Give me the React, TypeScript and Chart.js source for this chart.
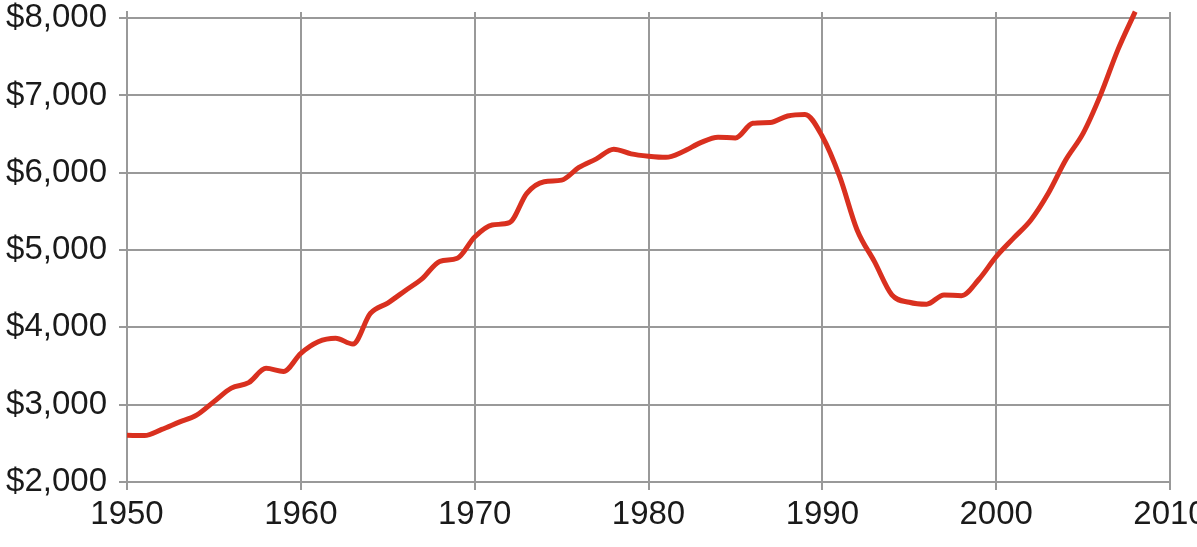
import React, { useEffect, useRef } from 'react';
import { Chart, registerables } from 'chart.js';

Chart.register(...registerables);

const years: number[] = [
  1950, 1951, 1952, 1953, 1954, 1955, 1956, 1957, 1958, 1959,
  1960, 1961, 1962, 1963, 1964, 1965, 1966, 1967, 1968, 1969,
  1970, 1971, 1972, 1973, 1974, 1975, 1976, 1977, 1978, 1979,
  1980, 1981, 1982, 1983, 1984, 1985, 1986, 1987, 1988, 1989,
  1990, 1991, 1992, 1993, 1994, 1995, 1996, 1997, 1998, 1999,
  2000, 2001, 2002, 2003, 2004, 2005, 2006, 2007, 2008,
];

const values: number[] = [
  2605, 2600, 2680, 2775, 2865, 3040, 3215, 3285, 3470, 3430,
  3665, 3815, 3860, 3785, 4180, 4315, 4475, 4635, 4855, 4895,
  5170, 5325, 5355, 5735, 5885, 5905, 6070, 6180, 6305, 6245,
  6215, 6200, 6275, 6390, 6460, 6450, 6640, 6650, 6735, 6755,
  6470, 5950, 5260, 4850, 4420, 4325, 4300, 4420, 4410, 4620,
  4915, 5155, 5390, 5735, 6165, 6510, 7005, 7590, 8085,
];

const yTicks: number[] = [2000, 3000, 4000, 5000, 6000, 7000, 8000];
const xTicks: number[] = [1950, 1960, 1970, 1980, 1990, 2000, 2010];

const LineChart: React.FC = () => {
  const chartRef = useRef<HTMLCanvasElement>(null);

  useEffect(() => {
    if (!chartRef.current) return;
    const font = { family: '"Liberation Sans", Arial, sans-serif', size: 33 };
    const chart = new Chart(chartRef.current, {
      type: 'line',
      data: {
        datasets: [
          {
            data: years.map((y, i) => ({ x: y, y: values[i] })),
            borderColor: '#d9301f',
            borderWidth: 5,
            pointRadius: 0,
            tension: 0.4,
            cubicInterpolationMode: 'monotone',
            fill: false,
            clip: false,
          },
        ],
      },
      options: {
        animation: false,
        responsive: false,
        layout: { padding: { top: 12, right: 27, bottom: 0, left: 0 } },
        plugins: { legend: { display: false }, tooltip: { enabled: false } },
        scales: {
          x: {
            type: 'linear',
            min: 1950,
            max: 2010,
            afterBuildTicks: (scale: any) => {
              scale.ticks = xTicks.map((v) => ({ value: v }));
            },
            afterFit: (scale: any) => {
              scale.paddingLeft = 0;
              scale.paddingRight = 0;
              scale.height = 65;
            },
            grid: { color: '#999999', lineWidth: 2, tickLength: 8 },
            border: { color: '#999999', width: 2 },
            ticks: {
              color: '#1a1a1a',
              font,
              padding: 5,
              maxRotation: 0,
              autoSkip: false,
              callback: (v: any) => String(v),
            },
          },
          y: {
            min: 2000,
            max: 8080,
            afterBuildTicks: (scale: any) => {
              scale.ticks = yTicks.map((v) => ({ value: v }));
            },
            afterFit: (scale: any) => {
              scale.width = 127;
              scale.paddingTop = 0;
              scale.paddingBottom = 0;
            },
            grid: { color: '#999999', lineWidth: 2, tickLength: 8 },
            border: { color: '#999999', width: 2 },
            ticks: {
              color: '#1a1a1a',
              font,
              padding: 12,
              callback: (v: any) => '$' + Number(v).toLocaleString('en-US'),
            },
          },
        },
      },
    });
    return () => {
      chart.destroy();
    };
  }, []);

  return <canvas ref={chartRef} width={1197} height={547} style={{ display: 'block' }} />;
};

export default function App() {
  return (
    <div style={{ position: 'fixed', left: 0, top: 0, width: 1197, height: 547, overflow: 'hidden', background: '#fff' }}>
      <LineChart />
    </div>
  );
}
